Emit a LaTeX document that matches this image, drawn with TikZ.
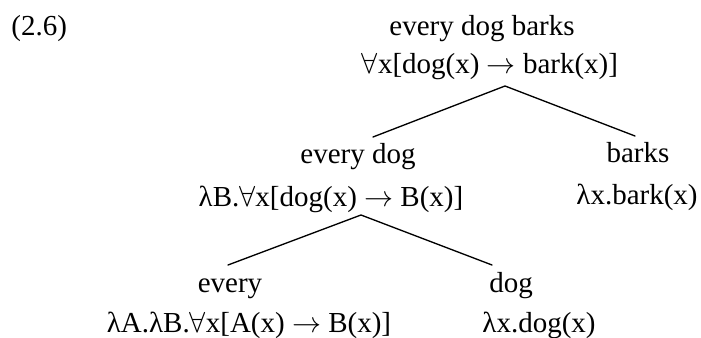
\documentclass[tikz,border=0pt]{standalone}
\usepackage{fontspec}
\setmainfont{Liberation Serif}
\usepackage{tikz}
\tikzset{lbl/.style={anchor=base,inner sep=0pt,font=\fontsize{12}{14}\selectfont},
  branch/.style={line width=0.55pt,line cap=round}}
\newcommand{\imp}{\ensuremath{\rightarrow}}
\newcommand{\all}{\ensuremath{\forall}}

\begin{document}
\begin{tikzpicture}[x=0.4138pt,y=-0.4138pt]
\useasboundingbox (0,0) rectangle (701,338);
\node[lbl,anchor=base west] (exno) at (11,36) {(2.6)};
% root
\node[lbl] (s) at (482,36) {every dog barks}; \node[lbl] (s-sem) at (490,74) {\all x[dog(x) \imp{} bark(x)]};
% every dog / barks
\node[lbl] (np) at (358,164) {every dog}; \node[lbl] (np-sem) at (331,207) {λB.\all x[dog(x) \imp{} B(x)]};
\node[lbl] (vp) at (638,163) {barks}; \node[lbl] (vp-sem) at (637,205) {λx.bark(x)};
% every / dog
\node[lbl] (det) at (230,293) {every}; \node[lbl] (det-sem) at (249,333) {λA.λB.\all x[A(x) \imp{} B(x)]};
\node[lbl] (n) at (511,293) {dog}; \node[lbl] (n-sem) at (539,333) {λx.dog(x)};
% branches
\coordinate (s-bot) at (505,86); \coordinate (np-top) at (373,137); \coordinate (vp-top) at (635,136);
\coordinate (np-bot) at (361,215); \coordinate (det-top) at (228,265); \coordinate (n-top) at (492,265);
\draw[branch] (np-top) -- (s-bot) -- (vp-top);
\draw[branch] (det-top) -- (np-bot) -- (n-top);
\end{tikzpicture}
\end{document}
